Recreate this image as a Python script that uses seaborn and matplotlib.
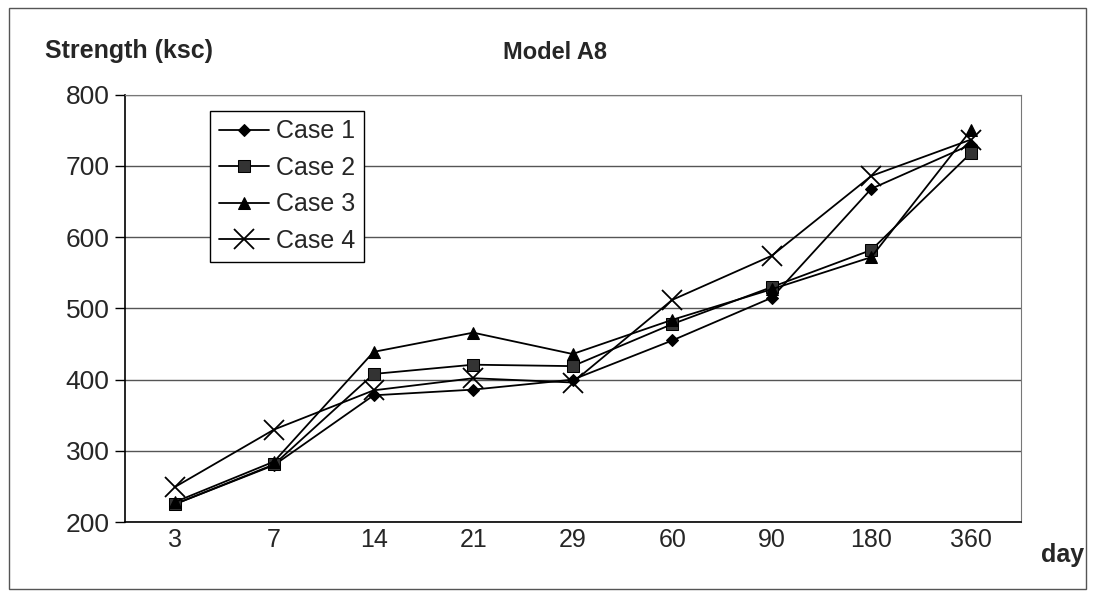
import numpy as np
import pandas as pd
import seaborn as sns
import matplotlib.pyplot as plt
from matplotlib.patches import Rectangle

days = ["3", "7", "14", "21", "29", "60", "90", "180", "360"]
case1 = [225, 280, 378, 386, 400, 455, 515, 668, 730]
case2 = [225, 281, 408, 421, 419, 478, 530, 582, 718]
case3 = [228, 285, 439, 466, 436, 484, 527, 572, 750]
case4 = [249, 330, 385, 402, 396, 512, 574, 686, 737]
case_names = ["Case 1", "Case 2", "Case 3", "Case 4"]

sns.set_style("white")
plt.rcParams["font.family"] = ["Liberation Sans", "DejaVu Sans"]

df = pd.DataFrame({
    "day": days * 4,
    "strength": case1 + case2 + case3 + case4,
    "case": np.repeat(case_names, len(days)),
})

fig = plt.figure(figsize=(10.95, 5.96), dpi=100)
ax = fig.add_axes([0.114, 0.124, 0.818, 0.717])

# outer border of the chart area
fig.patches.append(Rectangle((0.008, 0.012), 0.984, 0.975, transform=fig.transFigure,
                             fill=False, edgecolor="#555555", linewidth=1.0))

styles = {
    "Case 1": dict(marker="D", markersize=6, markerfacecolor="black", markeredgecolor="black"),
    "Case 2": dict(marker="s", markersize=8, markerfacecolor="#333333", markeredgecolor="black"),
    "Case 3": dict(marker="^", markersize=8, markerfacecolor="black", markeredgecolor="black"),
    "Case 4": dict(marker="x", markersize=14, markeredgewidth=1.3, markeredgecolor="black"),
}

for name in case_names:
    sub = df[df["case"] == name]
    sns.lineplot(data=sub, x="day", y="strength", ax=ax, color="black", linewidth=1.3,
                 sort=False, label=name, **styles[name])

ax.set_ylim(200, 800)
ax.set_xlim(-0.5, len(days) - 0.5)
ax.set_yticks(range(200, 801, 100))
ax.set_xticks(range(len(days)))
ax.set_xticklabels(days)
ax.set_xticks(np.arange(-0.5, len(days), 1.0), minor=True)
ax.tick_params(axis="x", which="major", length=0, labelsize=18, pad=4)
ax.tick_params(axis="x", which="minor", length=7, width=1, direction="out", color="black")
ax.tick_params(axis="y", length=7, width=1, direction="out", labelsize=19, pad=4, left=True, color="black")
ax.yaxis.grid(True, color="#555555", linewidth=1.0)
ax.set_xlabel("")
ax.set_ylabel("")

for side in ["top", "right"]:
    ax.spines[side].set_color("#777777")
for side in ["left", "bottom"]:
    ax.spines[side].set_color("black")
    ax.spines[side].set_linewidth(1.2)

leg = ax.legend(loc="upper left", bbox_to_anchor=(0.095, 0.963), borderaxespad=0, fontsize=18,
                frameon=True, fancybox=False, edgecolor="black", framealpha=1, handlelength=2.0,
                borderpad=0.35, labelspacing=0.5, handletextpad=0.3)
leg.get_frame().set_linewidth(1.0)

fig.text(0.041, 0.915, "Strength (ksc)", fontsize=18, fontweight="bold", ha="left", va="center")
fig.text(0.507, 0.912, "Model A8", fontsize=17, fontweight="bold", ha="center", va="center")
fig.text(0.970, 0.068, "day", fontsize=18, fontweight="bold", ha="center", va="center")

fig.savefig("out.png", dpi=100)
